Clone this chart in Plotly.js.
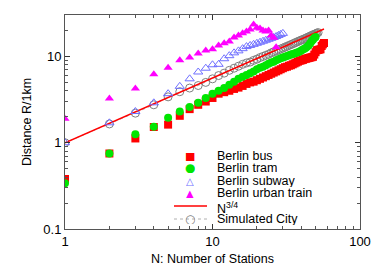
<!DOCTYPE html>
<html><head><meta charset="utf-8">
<script src="https://cdn.plot.ly/plotly-3.0.1.min.js"></script>
<style>html,body{margin:0;padding:0;background:#fff}#chart{width:382px;height:267px}</style>
</head><body><div id="chart"></div>
<script>
// ---- data ----
var busN = [];
for (var i = 1; i <= 57; i++) busN.push(i);
var busR = [0.38,0.75,1.12,1.52,1.62,2.05,2.45,2.75,3.0,3.3,3.7,3.85,4.0,4.2,4.35,4.55,4.8,5.0,5.1,5.3,
            5.5,5.7,5.9,6.1,6.3,6.5,6.7,6.9,7.1,7.3,7.5,7.6,7.8,7.9,8.1,8.3,8.5,8.7,8.9,9.0,
            9.1,9.3,9.4,9.5,9.6,9.7,9.8,9.9,10.5,11.2,11.8,11.9,12.0,12.1,13.2,13.8,14.3];
var tramN = busN.slice(0, 50);
var tramR = [0.34,0.75,1.25,1.53,1.95,2.3,2.6,2.9,3.3,3.7,4.0,4.3,4.7,5.1,5.5,5.8,6.1,6.4,6.7,7.1,
             7.4,7.6,7.9,8.2,8.5,8.7,9.0,9.3,9.5,9.7,9.9,10.1,10.3,10.5,10.7,10.8,11.0,11.2,11.4,11.7,
             12.0,12.3,12.6,13.0,13.5,14.2,15.0,15.6,16.3,16.8];
var subwayN = busN.slice(0, 30);
var subwayR = [1.0,1.7,2.3,2.9,3.7,4.5,5.5,6.6,7.3,8.0,8.1,9.4,10.2,11.0,11.6,12.3,13.0,13.4,13.8,14.2,
               14.6,15.0,15.4,15.8,16.2,16.6,17.0,17.5,18.0,18.5];
var urbanN = busN.slice(0, 27);
var urbanR = [1.9,3.25,4.25,6.2,7.4,9.0,9.7,10.8,11.7,12.1,13.4,14.2,14.9,16.6,17.5,18.5,19.5,20.5,23.5,21.5,
              21.0,20.0,19.5,20.0,17.5,16.5,12.8];
var simN = busN.slice(0, 52);
var simR = [1.0,1.65,2.2,2.75,3.4,3.9,4.3,4.6,5.0,5.5,6.0,6.4,6.9,7.3,7.7,8.1,8.4,8.6,9.0,9.3,
            9.7,10.0,10.3,10.6,11.0,11.3,11.6,11.9,12.2,12.5,12.8,13.1,13.4,13.7,14.0,14.3,14.6,14.9,15.2,15.5,
            15.7,16.0,16.3,16.6,16.9,17.2,17.5,17.8,18.0,18.3,18.6,18.9];
var fitN = [1, 57];
var fitR = [1, 20.8];
var legendNames = ["Berlin bus","Berlin tram","Berlin subway","Berlin urban train","N<sup>3/4</sup>","Simulated City"];
var xTitle = "N: Number of Stations";
var yTitle = "Distance R/1km";

// ---- layout geometry ----
var W = 382, H = 267;
var M = {l: 65, r: 22, t: 15, b: 38};
var pw = W - M.l - M.r, ph = H - M.t - M.b;
function px(x){ return (x - M.l) / pw; }
function py(y){ return (H - M.b - y) / ph; }
var FONT = "Liberation Sans, Arial, Helvetica, sans-serif";

var traces = [
  {x: simN, y: simR, mode: 'lines+markers', line: {color: '#b0b0b0', width: 1, dash: 'dot'},
   marker: {symbol: 'circle-open', size: 8, color: '#808080', line: {width: 1}}},
  {x: fitN, y: fitR, mode: 'lines', line: {color: '#ff0000', width: 1.5}},
  {x: busN, y: busR, mode: 'markers', marker: {symbol: 'square', size: 8, color: '#ff0000'}},
  {x: tramN, y: tramR, mode: 'markers', marker: {symbol: 'circle', size: 8, color: '#00e600'}},
  {x: subwayN, y: subwayR, mode: 'markers', marker: {symbol: 'triangle-up-open', size: 8, color: '#6f6fff', line: {width: 1}}},
  {x: urbanN, y: urbanR, mode: 'markers', marker: {symbol: 'triangle-up', size: 8, color: '#ff00ff'}}
];
traces.forEach(function(t){ t.type = 'scatter'; t.showlegend = false; t.hoverinfo = 'skip'; });

// legend built as annotations (rows placed to match the reference spacing)
var rowY = [155.5, 168, 180.5, 193, 206, 219];
var keyGlyph = ["\u25A0", "\u25CF", "\u25B3", "\u25B2", "", "\u25CB"];
var keyColor = ['#ff0000', '#00e600', '#6f6fff', '#ff00ff', '#ff0000', '#808080'];
var keySize = [11, 12, 10, 10, 10, 12];
var ann = [];
var shapes = [];
for (var k = 0; k < legendNames.length; k++) {
  ann.push({xref: 'paper', yref: 'paper', x: px(216), y: py(rowY[k] + (k === 4 ? 2 : 0)), xanchor: 'left', yanchor: 'middle',
            text: legendNames[k], showarrow: false, borderpad: 0, height: (k === 4 ? 14 : 12), valign: 'middle',
            font: {family: FONT, size: 12.5, color: '#000'}});
  if (keyGlyph[k]) {
    ann.push({xref: 'paper', yref: 'paper', x: px(190), y: py(rowY[k]), xanchor: 'center', yanchor: 'middle',
              text: keyGlyph[k], showarrow: false, borderpad: 0, height: 10, valign: 'middle',
              font: {family: 'DejaVu Sans', size: keySize[k], color: keyColor[k]}});
  }
}
shapes.push({type: 'line', xref: 'paper', yref: 'paper', x0: px(174), x1: px(207), y0: py(rowY[4]), y1: py(rowY[4]),
             line: {color: '#ff0000', width: 1.5}});
shapes.push({type: 'line', xref: 'paper', yref: 'paper', x0: px(174), x1: px(207), y0: py(rowY[5]), y1: py(rowY[5]),
             line: {color: '#b0b0b0', width: 1, dash: 'dot'}});

var axisCommon = {
  type: 'log', showgrid: false, zeroline: false, showline: true, linecolor: '#555', linewidth: 1,
  mirror: 'allticks', ticks: 'inside', ticklen: 5, tickcolor: '#333', dtick: 1,
  tickfont: {family: FONT, size: 13, color: '#000'},
  minor: {ticks: 'inside', ticklen: 3, tickcolor: '#555', dtick: 'D1', showgrid: false}
};
var layout = {
  width: W, height: H, margin: M, paper_bgcolor: '#fff', plot_bgcolor: '#fff', showlegend: false,
  xaxis: Object.assign({}, axisCommon, {range: [0, 2], title: {text: xTitle, font: {family: FONT, size: 12.5, color: '#000'}, standoff: 6}}),
  yaxis: Object.assign({}, axisCommon, {range: [-1, 1.48], title: {text: yTitle, font: {family: FONT, size: 12.5, color: '#000'}, standoff: 8}}),
  annotations: ann, shapes: shapes
};
Plotly.newPlot('chart', traces, layout, {staticPlot: true, displayModeBar: false});
</script></body></html>
